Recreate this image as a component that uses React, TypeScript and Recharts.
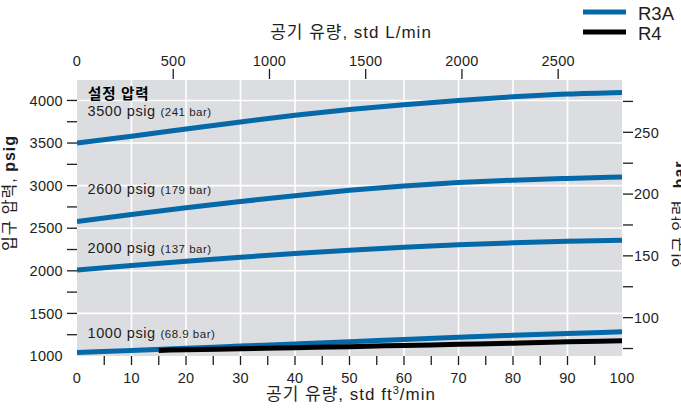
import React from 'react';
import { LineChart, Line, XAxis, YAxis, CartesianGrid } from 'recharts';

// ---- data ----
const flowScfm = [0, 10, 20, 30, 40, 50, 60, 70, 80, 90, 100];
const r3a3500 = [3500, 3580, 3664, 3748, 3826, 3893, 3950, 4000, 4043, 4075, 4094];
const r3a2600 = [2578, 2662, 2740, 2813, 2882, 2945, 2996, 3036, 3064, 3085, 3102];
const r3a2000 = [2008, 2062, 2113, 2160, 2203, 2242, 2277, 2306, 2329, 2347, 2359];
const r3a1000 = [1042, 1066, 1091, 1116, 1141, 1167, 1194, 1220, 1243, 1264, 1284];
const r4FlowScfm = [15, 20, 30, 40, 50, 60, 70, 80, 90, 100];
const r41000 = [1066, 1073, 1085, 1097, 1110, 1124, 1137, 1151, 1166, 1180];

const bottomTicks = [0, 5, 10, 15, 20, 25, 30, 35, 40, 45, 50, 55, 60, 65, 70, 75, 80, 85, 90, 95, 100];
const topTicksLpm = [0, 500, 1000, 1500, 2000, 2500];
const leftTicks = [1000, 1250, 1500, 1750, 2000, 2250, 2500, 2750, 3000, 3250, 3500, 3750, 4000];
const rightTicksBar = [75, 100, 125, 150, 175, 200, 225, 250, 275];
const gridX = [10, 20, 30, 40, 50, 60, 70, 80, 90];
const gridY = [1500, 2000, 2500, 3000, 3500, 4000];

const setLabels = [
  { psig: '3500 psig', bar: '(241 bar)' },
  { psig: '2600 psig', bar: '(179 bar)' },
  { psig: '2000 psig', bar: '(137 bar)' },
  { psig: '1000 psig', bar: '(68.9 bar)' },
];
const legendItems = [
  { name: 'R3A', color: '#0568a8' },
  { name: 'R4', color: '#000000' },
];

const LPM_PER_SCFM = 28.3168;
const PSI_PER_BAR = 14.5038;
const BLUE = '#0568a8';
const FONT = "'Liberation Sans', Arial, 'Noto Sans CJK KR', sans-serif";
const TXT = '#1e1e1e';

const toRows = (xs: number[], ys: number[]) => xs.map((x, i) => ({ x, y: ys[i] }));

const LeftTick = (p: any) => {
  const v = p.payload.value;
  const { x, y } = p;
  return (
    <g>
      {v !== 1000 && <line x1={x - 10} x2={x} y1={y} y2={y} stroke={TXT} strokeWidth={1.3} />}
      {v % 500 === 0 && (
        <text x={x - 14} y={y + 5.2} textAnchor="end" fontSize={14.5} fill={TXT} fontFamily={FONT} letterSpacing={0.3}>
          {v}
        </text>
      )}
    </g>
  );
};

const RightTick = (p: any) => {
  const bar = Math.round(p.payload.value / PSI_PER_BAR);
  const { x, y } = p;
  return (
    <g>
      <line x1={x + 1} x2={x + 11} y1={y} y2={y} stroke={TXT} strokeWidth={1.3} />
      {bar % 50 === 0 && (
        <text x={x + 12} y={y + 5.2} textAnchor="start" fontSize={14.5} fill={TXT} fontFamily={FONT} letterSpacing={0.3}>
          {bar}
        </text>
      )}
    </g>
  );
};

const BottomTick = (p: any) => {
  const v = p.payload.value;
  const { x, y } = p;
  return (
    <g>
      {v !== 0 && v !== 100 && <line x1={x} x2={x} y1={y} y2={y + 9} stroke={TXT} strokeWidth={1.3} />}
      {v % 10 === 0 && (
        <text x={x} y={y + 26.5} textAnchor="middle" fontSize={14.5} fill={TXT} fontFamily={FONT} letterSpacing={0.3}>
          {v}
        </text>
      )}
    </g>
  );
};

const TopTick = (p: any) => {
  const lpm = Math.round((p.payload.value * LPM_PER_SCFM) / 100) * 100;
  const { x, y } = p;
  return (
    <g>
      {lpm !== 0 && <line x1={x} x2={x} y1={y - 11} y2={y - 1} stroke={TXT} strokeWidth={1.3} />}
      <text x={x} y={y - 14} textAnchor="middle" fontSize={14.5} fill={TXT} fontFamily={FONT} letterSpacing={0.3}>
        {lpm}
      </text>
    </g>
  );
};

const labelBaselines = [116, 193.5, 253.3, 338.3];

export default function App() {
  return (
    <div style={{ position: 'absolute', left: 0, top: 0, width: 681, height: 409, background: '#fff', overflow: 'hidden' }}>
      <LineChart width={681} height={409} margin={{ top: 0, right: 0, bottom: 0, left: 0 }}>
        <CartesianGrid
          xAxisId="b"
          yAxisId="l"
          verticalValues={gridX}
          horizontalValues={gridY}
          stroke="#ffffff"
          strokeWidth={1.6}
          fill="#dcdde0"
          fillOpacity={1}
        />
        <XAxis
          xAxisId="b"
          dataKey="x"
          type="number"
          domain={[0, 100]}
          ticks={bottomTicks}
          interval={0}
          height={53}
          axisLine={false}
          tickLine={false}
          tickSize={0}
          tickMargin={0}
          tick={BottomTick}
          allowDataOverflow
        />
        <XAxis
          xAxisId="t"
          orientation="top"
          dataKey="x"
          type="number"
          domain={[0, 100]}
          ticks={topTicksLpm.map((v) => v / LPM_PER_SCFM)}
          interval={0}
          height={80}
          axisLine={false}
          tickLine={false}
          tickSize={0}
          tickMargin={0}
          tick={TopTick}
          allowDataOverflow
        />
        <YAxis
          yAxisId="l"
          type="number"
          domain={[1000, 4240]}
          ticks={leftTicks}
          interval={0}
          width={77}
          axisLine={false}
          tickLine={false}
          tickSize={0}
          tickMargin={0}
          tick={LeftTick}
          allowDataOverflow
        />
        <YAxis
          yAxisId="r"
          orientation="right"
          type="number"
          domain={[1000, 4240]}
          ticks={rightTicksBar.map((b) => b * PSI_PER_BAR)}
          interval={0}
          width={59}
          axisLine={false}
          tickLine={false}
          tickSize={0}
          tickMargin={0}
          tick={RightTick}
          allowDataOverflow
        />
        <Line xAxisId="b" yAxisId="l" data={toRows(flowScfm, r3a3500)} dataKey="y" type="monotone" stroke={BLUE} strokeWidth={5} dot={false} isAnimationActive={false} />
        <Line xAxisId="b" yAxisId="l" data={toRows(flowScfm, r3a2600)} dataKey="y" type="monotone" stroke={BLUE} strokeWidth={5} dot={false} isAnimationActive={false} />
        <Line xAxisId="b" yAxisId="l" data={toRows(flowScfm, r3a2000)} dataKey="y" type="monotone" stroke={BLUE} strokeWidth={5} dot={false} isAnimationActive={false} />
        <Line xAxisId="b" yAxisId="l" data={toRows(flowScfm, r3a1000)} dataKey="y" type="monotone" stroke={BLUE} strokeWidth={5} dot={false} isAnimationActive={false} />
        <Line xAxisId="b" yAxisId="l" data={toRows(r4FlowScfm, r41000)} dataKey="y" type="monotone" stroke="#000" strokeWidth={5} dot={false} isAnimationActive={false} />
      </LineChart>

      <svg width={681} height={409} style={{ position: 'absolute', left: 0, top: 0, pointerEvents: 'none' }} fontFamily={FONT}>
        {/* legend */}
        {legendItems.map((it, i) => (
          <g key={it.name}>
            <line x1={583} x2={626} y1={12 + i * 20} y2={12 + i * 20} stroke={it.color} strokeWidth={5} />
            <text x={638} y={19.5 + i * 20} fontSize={18.5} fill={TXT}>{it.name}</text>
          </g>
        ))}
        {/* axis titles */}
        <text x={351} y={37.5} textAnchor="middle" fontSize={17} letterSpacing={1} fill={TXT}>
          공기 유량, std L/min
        </text>
        <text x={351} y={400} textAnchor="middle" fontSize={17} letterSpacing={1} fill={TXT}>
          공기 유량, std ft<tspan dy={-6} fontSize={11}>3</tspan><tspan dy={6}>/min</tspan>
        </text>
        <text transform="translate(15,193) rotate(-90)" textAnchor="middle" fontSize={16} letterSpacing={1} fill={TXT}>
          입구 압력, <tspan fontWeight="bold">psig</tspan>
        </text>
        <text transform="translate(685,214) rotate(-90)" textAnchor="middle" fontSize={16} letterSpacing={1} fill={TXT}>
          입구 압력, <tspan fontWeight="bold">bar</tspan>
        </text>
        {/* in-plot annotations */}
        <text x={88} y={98.5} fontSize={14.5} fontWeight="bold" letterSpacing={0.8} fill="#000">설정 압력</text>
        {setLabels.map((s, i) => (
          <text key={s.psig} x={87.5} y={labelBaselines[i]} fill={TXT}>
            <tspan fontSize={14.5} letterSpacing={0.6}>{s.psig} </tspan>
            <tspan fontSize={11.5} letterSpacing={0.5}>{s.bar}</tspan>
          </text>
        ))}
      </svg>
    </div>
  );
}
